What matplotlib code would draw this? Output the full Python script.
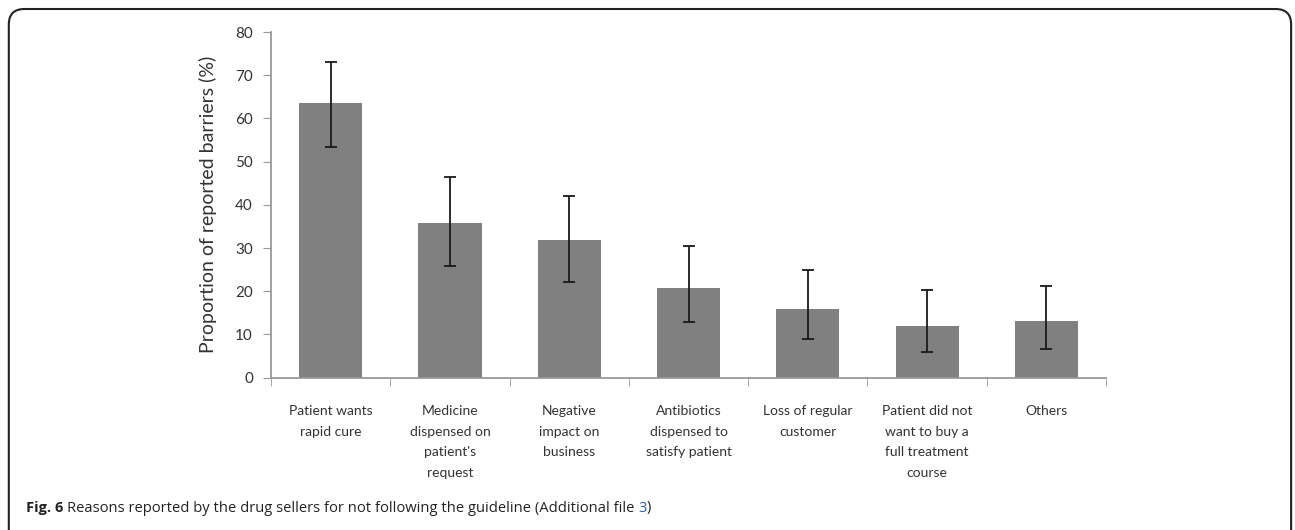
import matplotlib.pyplot as plt
import numpy as np
from matplotlib.patches import FancyBboxPatch

# data
categories = ['Patient wants\nrapid cure',
              'Medicine\ndispensed on\npatient\'s\nrequest',
              'Negative\nimpact on\nbusiness',
              'Antibiotics\ndispensed to\nsatisfy patient',
              'Loss of regular\ncustomer',
              'Patient did not\nwant to buy a\nfull treatment\ncourse',
              'Others']
proportion = [63.6, 35.9, 31.9, 20.7, 16.0, 12.0, 13.1]
err_upper = [73.0, 46.4, 42.1, 30.4, 24.9, 20.2, 21.3]
err_lower = [53.5, 25.9, 22.2, 12.8, 8.9, 5.9, 6.6]
yticks = [0, 10, 20, 30, 40, 50, 60, 70, 80]

plt.rcParams['font.family'] = ['Lato', 'DejaVu Sans']

fig = plt.figure(figsize=(12.95, 5.3), dpi=100)
ax = fig.add_axes([0.2093, 0.2874, 0.6448, 0.6522])

x = np.arange(len(categories))
vals = np.array(proportion)
yerr = np.array([vals - np.array(err_lower), np.array(err_upper) - vals])
ax.bar(x, vals, width=0.53, color='#808080', zorder=2)
ax.errorbar(x, vals, yerr=yerr, fmt='none', ecolor='#1a1a1a',
            elinewidth=1.3, capsize=4, capthick=1.3, zorder=3)

ax.set_xlim(-0.5, len(categories) - 0.5)
ax.set_ylim(0, 80)
ax.set_yticks(yticks)
ax.set_xticks(x)
ax.set_xticklabels(categories, fontsize=10, color='#333333', linespacing=1.85,
                   va='top')
ax.set_xticks(np.arange(-0.5, len(categories)), minor=True)
ax.tick_params(axis='x', which='major', length=0, pad=20)
ax.tick_params(axis='x', which='minor', length=6, color='#999999', direction='out')
ax.tick_params(axis='y', length=6, color='#999999', labelsize=11,
               labelcolor='#333333', pad=7)
for s in ['top', 'right']:
    ax.spines[s].set_visible(False)
for s in ['left', 'bottom']:
    ax.spines[s].set_color('#999999')
    ax.spines[s].set_linewidth(1.3)
ax.set_ylabel('Proportion of reported barriers (%)', fontsize=14,
              color='#333333')
ax.yaxis.set_label_coords(-0.065, 0.5)

# frame round the figure
frame = FancyBboxPatch((0.0068, -0.05), 0.9902, 1.033, transform=fig.transFigure,
                       boxstyle='round,pad=0,rounding_size=0.012',
                       fill=False, edgecolor='#222222', linewidth=1.5,
                       mutation_aspect=1295 / 530)
fig.patches.append(frame)

# caption
fig.canvas.draw()
r = fig.canvas.get_renderer()
cap_y = 1 - 508 / 530
cap_font = ['Open Sans', 'DejaVu Sans']
t1 = fig.text(26 / 1295, cap_y, 'Fig. 6', fontsize=10.6, fontweight='bold',
              family=cap_font, va='center', color='#222222')
bb = t1.get_window_extent(r)
t2 = fig.text(bb.x1 / 1295 + 0.003, cap_y,
              'Reasons reported by the drug sellers for not following the guideline (Additional file ',
              fontsize=10.6, family=cap_font, va='center', color='#222222')
bb = t2.get_window_extent(r)
t3 = fig.text(bb.x1 / 1295, cap_y, '3', fontsize=10.6,
              family=cap_font, va='center', color='#2a5db0')
bb = t3.get_window_extent(r)
fig.text(bb.x1 / 1295, cap_y, ')', fontsize=10.6,
         family=cap_font, va='center', color='#222222')

fig.savefig('out.png', dpi=100)
